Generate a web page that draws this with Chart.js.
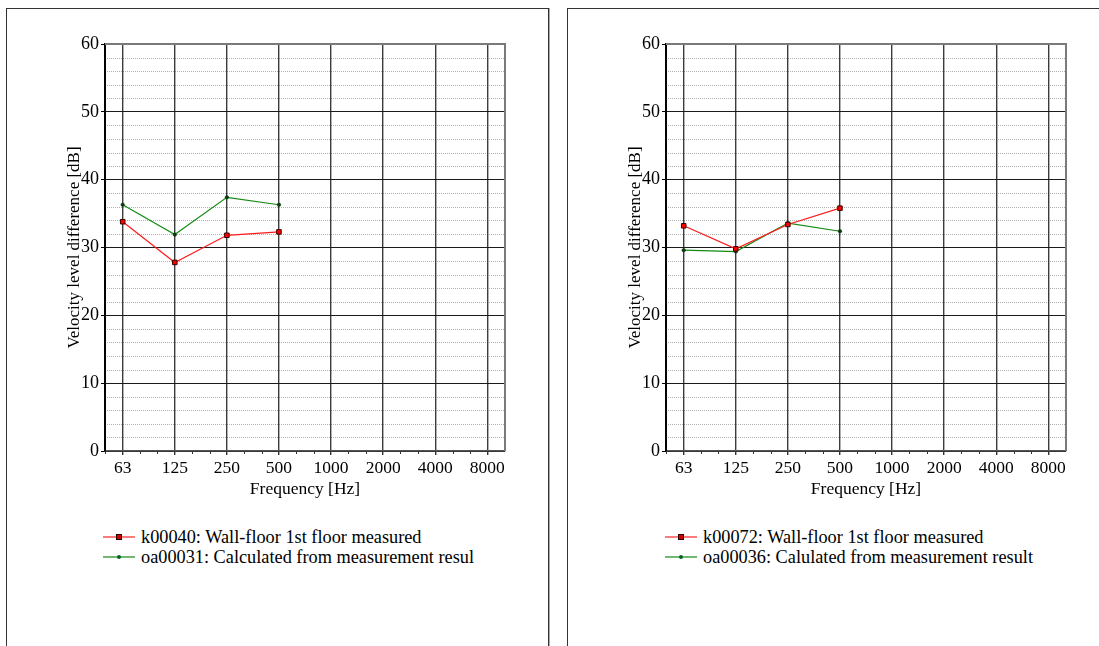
<!DOCTYPE html>
<html>
<head>
<meta charset="utf-8">
<script src="https://cdn.jsdelivr.net/npm/chart.js@4.4.1/dist/chart.umd.min.js"></script>
<style>
  html, body { margin: 0; padding: 0; background: #fff; overflow: hidden; }
  body { width: 1099px; height: 646px; position: relative; font-family: "Liberation Serif", "Times New Roman", serif; }
  .panel { position: absolute; top: 8px; height: 700px; border: 1px solid #333; border-bottom: none; background: #fff; }
  .panel.left { left: 6px; width: 541px; box-shadow: 1px 0 0 #aaa; }
  .panel.right { left: 567px; width: 600px; }
  canvas { position: absolute; }
  .legend { position: absolute; font-size: 18px; color: #000; line-height: 20px; }
  .legend .row { position: relative; height: 20px; white-space: nowrap; }
  .legend .swatch { position: absolute; left: 0; top: 9px; width: 32px; height: 0; border-top: 2px solid; }
  .legend .dot { position: absolute; box-sizing: border-box; }
  .legend .txt { position: absolute; left: 38px; top: 0; }
</style>
</head>
<body>
<div class="panel left"></div>
<div class="panel right"></div>
<canvas id="chartLeft" width="520" height="490" style="left:20px; top:20px;"></canvas>
<canvas id="chartRight" width="520" height="490" style="left:581px; top:20px;"></canvas>
<div class="legend" id="legendLeft" style="left:103px; top:527px;"></div>
<div class="legend" id="legendRight" style="left:665px; top:527px;"></div>
<script>
// octave band centre frequencies (x axis)
const FREQ_LABELS = ["63", "125", "250", "500", "1000", "2000", "4000", "8000"];

// y axis range, dB
const Y_MIN = 0;
const Y_MAX = 60;
const Y_STEP = 10;
const Y_MINOR_STEP = 2;

// left panel
const LEFT_NAMES = [
    "k00040: Wall-floor 1st floor measured",
    "oa00031: Calculated from measurement resul",
];
const LEFT_MEASURED = [33.8, 27.8, 31.8, 32.3];
const LEFT_CALCULATED = [36.3, 31.9, 37.4, 36.3];

// right panel
const RIGHT_NAMES = [
    "k00072: Wall-floor 1st floor measured",
    "oa00036: Calulated from measurement result",
];
const RIGHT_MEASURED = [33.2, 29.8, 33.4, 35.8];
const RIGHT_CALCULATED = [29.6, 29.4, 33.6, 32.4];

const FONT_FAMILY = "Liberation Serif";

function toPoints(values) {
    return values.map((v, i) => ({ x: i, y: v }));
}

// dotted minor grid, minor x ticks and the grey frame
const framePlugin = {
    id: "frame",
    beforeDraw(chart) {
        const { ctx, chartArea: a, scales } = chart;
        const y = scales.y;
        ctx.save();
        ctx.strokeStyle = "#b0b0b0";
        ctx.lineWidth = 1;
        ctx.setLineDash([1, 1]);
        for (let v = Y_MIN; v <= Y_MAX; v += Y_MINOR_STEP) {
            if (v % Y_STEP === 0) continue;
            const py = Math.round(y.getPixelForValue(v)) + 0.5;
            ctx.beginPath();
            ctx.moveTo(a.left, py);
            ctx.lineTo(a.right, py);
            ctx.stroke();
        }
        ctx.restore();
    },
    afterDraw(chart) {
        const { ctx, chartArea: a, scales } = chart;
        const x = scales.x;
        ctx.save();
        // third-octave minor ticks under the x axis
        ctx.strokeStyle = "#333";
        ctx.lineWidth = 1;
        for (let k = -3; k <= 3 * FREQ_LABELS.length; k++) {
            if (k % 3 === 0) continue;
            const px = Math.round(x.getPixelForValue(k / 3)) + 0.5;
            if (px < a.left || px > a.right) continue;
            ctx.beginPath();
            ctx.moveTo(px, a.bottom);
            ctx.lineTo(px, a.bottom + 3);
            ctx.stroke();
        }
        // grey top and right edges
        ctx.strokeStyle = "#7a7a7a";
        ctx.lineWidth = 2;
        ctx.beginPath();
        ctx.moveTo(a.left, a.top);
        ctx.lineTo(a.right, a.top);
        ctx.lineTo(a.right, a.bottom);
        ctx.stroke();
        ctx.restore();
    },
};

function makeChart(canvasId, legendId, names, measured, calculated) {
    const chart = new Chart(document.getElementById(canvasId), {
        type: "line",
        data: {
            datasets: [
                {
                    label: names[0],
                    data: toPoints(measured),
                    borderColor: "#ff1a1a",
                    backgroundColor: "#ff0000",
                    borderWidth: 1.2,
                    pointStyle: "rect",
                    pointRadius: 3.2,
                    pointBorderColor: "#3a0000",
                    pointBackgroundColor: "#ff0000",
                    pointBorderWidth: 1,
                    tension: 0,
                    fill: false,
                },
                {
                    label: names[1],
                    data: toPoints(calculated),
                    borderColor: "#138a13",
                    backgroundColor: "#138a13",
                    borderWidth: 1.2,
                    pointStyle: "circle",
                    pointRadius: 1.8,
                    pointBorderColor: "#0a3a0a",
                    pointBackgroundColor: "#0a3a0a",
                    pointBorderWidth: 0.5,
                    tension: 0,
                    fill: false,
                },
            ],
        },
        options: {
            responsive: false,
            animation: false,
            devicePixelRatio: 1,
            layout: { padding: { left: 0, top: 24, right: 35, bottom: 0 } },
            plugins: {
                legend: { display: false },
                tooltip: { enabled: false },
            },
            scales: {
                x: {
                    type: "linear",
                    min: -0.34,
                    max: FREQ_LABELS.length - 1 + 0.34,
                    afterBuildTicks: (s) => {
                        s.ticks = FREQ_LABELS.map((_, i) => ({ value: i }));
                    },
                    afterFit: (s) => { s.height = 59; },
                    ticks: {
                        autoSkip: false,
                        maxRotation: 0,
                        padding: 3,
                        color: "#000",
                        font: { family: FONT_FAMILY, size: 17.5 },
                        callback: (v) => FREQ_LABELS[v],
                    },
                    grid: { color: "#3c3c3c", lineWidth: 1.4, tickLength: 4, tickColor: "#333" },
                    border: { color: "#555", width: 1.5 },
                    title: {
                        display: true,
                        text: "Frequency [Hz]",
                        color: "#000",
                        font: { family: FONT_FAMILY, size: 17.5 },
                        padding: { top: 0, bottom: 10 },
                    },
                },
                y: {
                    min: Y_MIN,
                    max: Y_MAX,
                    afterFit: (s) => { s.width = 85; },
                    ticks: {
                        stepSize: Y_STEP,
                        padding: 2,
                        color: "#000",
                        font: { family: FONT_FAMILY, size: 18 },
                    },
                    grid: { color: "#1a1a1a", lineWidth: 1, tickLength: 4, tickColor: "#000" },
                    border: { color: "#000", width: 2 },
                    title: {
                        display: true,
                        text: "Velocity level difference [dB]",
                        color: "#000",
                        font: { family: FONT_FAMILY, size: 17 },
                        padding: { top: 44, bottom: 0 },
                    },
                },
            },
        },
        plugins: [framePlugin],
    });

    // legend rows built from the datasets
    const legend = document.getElementById(legendId);
    chart.data.datasets.forEach((ds, i) => {
        const row = document.createElement("div");
        row.className = "row";
        const sw = document.createElement("div");
        sw.className = "swatch";
        sw.style.borderTopColor = i === 0 ? "#ff7a7a" : "#72b872";
        const dot = document.createElement("div");
        dot.className = "dot";
        if (i === 0) {
            dot.style.cssText = "width:6px;height:6px;left:13px;top:-4px;background:#d00000;border:1.5px solid #200;";
        } else {
            dot.style.cssText = "width:4px;height:4px;left:14px;top:-3px;background:#062;border-radius:2px;";
        }
        sw.appendChild(dot);
        const txt = document.createElement("span");
        txt.className = "txt";
        txt.style.fontSize = "18.3px";
        txt.textContent = ds.label;
        row.appendChild(sw);
        row.appendChild(txt);
        legend.appendChild(row);
    });
    return chart;
}

Chart.defaults.font.family = FONT_FAMILY;
makeChart("chartLeft", "legendLeft", LEFT_NAMES, LEFT_MEASURED, LEFT_CALCULATED);
makeChart("chartRight", "legendRight", RIGHT_NAMES, RIGHT_MEASURED, RIGHT_CALCULATED);
</script>
</body>
</html>
